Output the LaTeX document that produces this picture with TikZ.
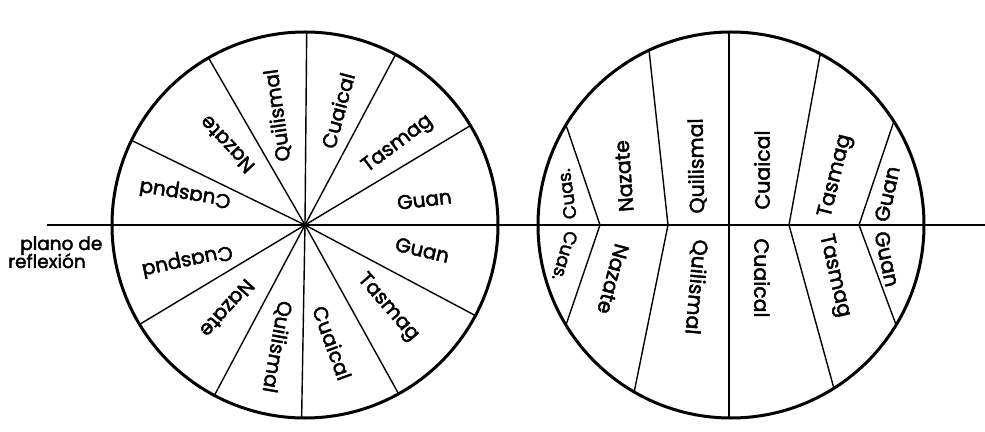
\documentclass[tikz,border=0pt]{standalone}
\usepackage{fontspec}
\setmainfont{Poppins}
\newfontfamily\labfont{Poppins}[FakeBold=2.2]
\usetikzlibrary{calc}
\begin{document}
\begin{tikzpicture}[x=1pt,y=1pt,
  rim/.style={line width=3pt},
  spoke/.style={line width=1.4pt},
  lab/.style={font=\labfont\fontsize{20.5}{23}\selectfont, inner sep=0pt},
  labS/.style={font=\labfont\fontsize{18}{21}\selectfont, inner sep=0pt},
  labL/.style={font=\labfont\fontsize{20}{23}\selectfont, inner sep=0pt},
  plano/.style={font=\labfont\fontsize{18.5}{21}\selectfont, inner sep=0pt, anchor=base west},
]
\useasboundingbox (0,0) rectangle (985,431);
\fill[white] (0,0) rectangle (985,431);
\coordinate (L) at (305,206);
\coordinate (R) at (731,206);
% reflection plane
\coordinate (planeW) at (47,206);
\coordinate (planeE) at (985,206);
\draw[spoke] (planeW) -- (planeE);
% left wheel spokes
\foreach \a in {31,62,89.5,120,154,211,242,269,299,332}
  \draw[spoke] (L) -- ++(\a:193);
\draw[rim] (L) circle (193);
% right wheel dividing lines
\coordinate (v1) at (600,206);
\coordinate (v2) at (668,206);
\coordinate (v4) at (789,206);
\coordinate (v5) at (859,206);
\begin{scope}
  \clip (R) circle (193);
  \draw[spoke] ($(v1)!2!(567,303)$) -- (v1) -- ($(v1)!2!(567,109)$);
  \draw[spoke] ($(v2)!2!(649,381)$) -- (v2) -- ($(v2)!2!(635,43)$);
  \draw[spoke] (729,420) -- (729,-10);
  \draw[spoke] ($(v4)!2!(820,376)$) -- (v4) -- ($(v4)!2!(833,46)$);
  \draw[spoke] ($(v5)!2!(893,307)$) -- (v5) -- ($(v5)!2!(895,109)$);
\end{scope}
\draw[rim] (R) circle (193);
% left wheel labels
\node[labL, rotate=7]   (lu1) at ($(L)+(12:122)$)  {Guan};
\node[labL, rotate=37]  (lu2) at ($(L)+(41:123)$)  {Tasmag};
\node[labL, rotate=75]  (lu3) at ($(L)+(74:119)$)  {Cuaical};
\node[labL, rotate=98]  (lu4) at ($(L)+(104:113)$) {Quilismal};
\node[labL, rotate=133] (lu5) at ($(L)+(134:112)$) {Nazate};
\node[labL, rotate=171] (lu6) at ($(L)+(165:124)$) {Cuaspud};
\node[labL, rotate=192] (ll6) at ($(L)+(196.5:123)$) {Cuaspud};
\node[labL, rotate=228] (ll5) at ($(L)+(227:114)$) {Nazate};
\node[labL, rotate=260] (ll4) at ($(L)+(257:125)$) {Quilismal};
\node[labL, rotate=290] (ll3) at ($(L)+(283:121)$) {Cuaical};
\node[labL, rotate=311] (ll2) at ($(L)+(315:117)$) {Tasmag};
\node[labL, rotate=347] (ll1) at ($(L)+(348:120)$) {Guan};
% right wheel labels
\node[labS, rotate=98] (ru1) at (567,237) {Cuas.};
\node[lab, rotate=94] (ru2) at (624,255) {Nazate};
\node[lab, rotate=91] (ru3) at (697,265) {Quilismal};
\node[lab, rotate=90] (ru4) at (762,261) {Cuaical};
\node[lab, rotate=76] (ru5) at (836,255) {Tasmag};
\node[lab, rotate=78] (ru6) at (887,237) {Guan};
\node[labS, rotate=-106] (rl1) at (565,175) {Cuas.};
\node[lab, rotate=-105] (rl2) at (613,152) {Nazate};
\node[lab, rotate=-95]  (rl3) at (696,144) {Quilismal};
\node[lab, rotate=-90]  (rl4) at (762,153) {Cuaical};
\node[lab, rotate=-77]  (rl5) at (834,155) {Tasmag};
\node[lab, rotate=-78]  (rl6) at (887,172) {Guan};
% plane label
\node[plano] (pl1) at (20,181) {plano de};
\node[plano] (pl2) at (8,163) {reflexión};
\end{tikzpicture}
\end{document}
